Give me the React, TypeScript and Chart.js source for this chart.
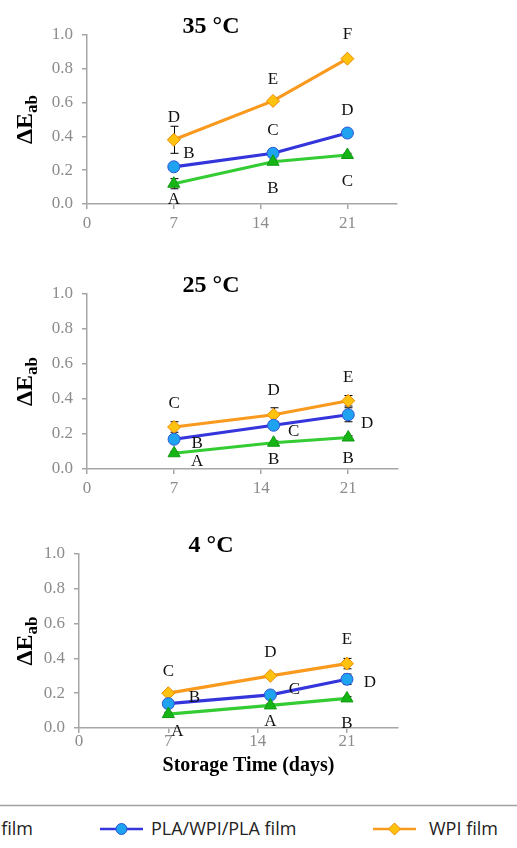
import React, { useEffect, useRef } from 'react';
import { Chart, registerables } from 'chart.js';

Chart.register(...registerables);

// ---------- data ----------
const days = [7, 15, 21];
const xTicks = [0, 7, 14, 21];
const yTicks = [0, 0.2, 0.4, 0.6, 0.8, 1.0];
const seriesNames = ['PLA film', 'PLA/WPI/PLA film', 'WPI film'];
const panelTitles = ['35 °C', '25 °C', '4 °C'];
const xAxisTitle = 'Storage Time (days)';

// 35 °C
const pla35 = [0.12, 0.25, 0.29];
const mid35 = [0.22, 0.30, 0.42];
const wpi35 = [0.38, 0.61, 0.86];
const plaErr35 = [0.03, 0.01, 0.01];
const midErr35 = [0.01, 0.01, 0.01];
const wpiErr35 = [0.08, 0.01, 0.01];
const plaLet35 = ['A', 'B', 'C'];
const midLet35 = ['B', 'C', 'D'];
const wpiLet35 = ['D', 'E', 'F'];

// 25 °C
const pla25 = [0.09, 0.15, 0.18];
const mid25 = [0.17, 0.25, 0.31];
const wpi25 = [0.24, 0.31, 0.39];
const plaErr25 = [0.01, 0.01, 0.01];
const midErr25 = [0.02, 0.02, 0.04];
const wpiErr25 = [0.03, 0.04, 0.03];
const plaLet25 = ['A', 'B', 'B'];
const midLet25 = ['B', 'C', 'D'];
const wpiLet25 = ['C', 'D', 'E'];

// 4 °C
const pla4 = [0.08, 0.13, 0.17];
const mid4 = [0.14, 0.19, 0.28];
const wpi4 = [0.20, 0.30, 0.37];
const plaErr4 = [0.01, 0.01, 0.01];
const midErr4 = [0.02, 0.02, 0.03];
const wpiErr4 = [0.01, 0.01, 0.03];
const plaLet4 = ['A', 'A', 'B'];
const midLet4 = ['B', 'C', 'D'];
const wpiLet4 = ['C', 'D', 'E'];

// ---------- styles ----------
const SERIF = "'Liberation Serif', 'Times New Roman', serif";
const SANS = "'Open Sans', 'Liberation Sans', sans-serif";
const AXIS_COLOR = '#A6A6A6';
const TICK_COLOR = '#8C8C8C';

Chart.defaults.font.family = SERIF;

const seriesStyles = [
  { line: '#33CC33', fill: '#16B516', border: '#109A10', pointStyle: 'triangle', radius: 7 },
  { line: '#3535DC', fill: '#1FA3F0', border: '#2B55D6', pointStyle: 'circle', radius: 6 },
  { line: '#F99A1E', fill: '#FFC20E', border: '#EE8A00', pointStyle: 'rectRot', radius: 6.5 },
];

type Panel = {
  title: string;
  values: number[][];
  errs: number[][];
  letters: string[][];
  offsets: number[][][];
  top: number;
  height: number;
  padTop: number;
  left: number;
  right: number;
  xAxisH: number;
  xPad: number;
  showXTitle: boolean;
};

const panels: Panel[] = [
  {
    title: panelTitles[0],
    values: [pla35, mid35, wpi35],
    errs: [plaErr35, midErr35, wpiErr35],
    letters: [plaLet35, midLet35, wpiLet35],
    offsets: [
      [[0, 16], [0, 27], [0, 27]],
      [[15, -13], [0, -23], [0, -22]],
      [[0, -22], [0, -21], [0, -24]],
    ],
    top: 0, height: 240, padTop: 35, left: 87, right: 397, xAxisH: 36, xPad: 4, showXTitle: false,
  },
  {
    title: panelTitles[1],
    values: [pla25, mid25, wpi25],
    errs: [plaErr25, midErr25, wpiErr25],
    letters: [plaLet25, midLet25, wpiLet25],
    offsets: [
      [[23, 8], [0, 17], [0, 21]],
      [[23, 4], [20, 6], [19, 9]],
      [[0, -23], [0, -24], [0, -23]],
    ],
    top: 250, height: 250, padTop: 44, left: 87, right: 398, xAxisH: 31, xPad: 4, showXTitle: false,
  },
  {
    title: panelTitles[2],
    values: [pla4, mid4, wpi4],
    errs: [plaErr4, midErr4, wpiErr4],
    letters: [plaLet4, midLet4, wpiLet4],
    offsets: [
      [[9, 17], [0, 16], [0, 25]],
      [[26, -6], [24, -5], [23, 3]],
      [[0, -22], [0, -23], [0, -24]],
    ],
    top: 510, height: 290, padTop: 44, left: 79, right: 398, xAxisH: 72, xPad: -2, showXTitle: true,
  },
];

function makePlugin(p: Panel) {
  return {
    id: 'panelDecor',
    beforeDatasetsDraw(chart: any) {
      const ctx = chart.ctx;
      const xs = chart.scales.x;
      const ys = chart.scales.y;
      ctx.save();
      ctx.strokeStyle = '#000';
      ctx.lineWidth = 1;
      p.values.forEach((vals, si) => {
        vals.forEach((v, i) => {
          const e = p.errs[si][i];
          if (!e) return;
          const x = Math.round(xs.getPixelForValue(days[i])) + 0.5;
          const y1 = ys.getPixelForValue(v + e);
          const y2 = ys.getPixelForValue(v - e);
          ctx.beginPath();
          ctx.moveTo(x, y1); ctx.lineTo(x, y2);
          ctx.moveTo(x - 4, y1); ctx.lineTo(x + 4, y1);
          ctx.moveTo(x - 4, y2); ctx.lineTo(x + 4, y2);
          ctx.stroke();
        });
      });
      ctx.restore();
    },
    afterDraw(chart: any) {
      const ctx = chart.ctx;
      const xs = chart.scales.x;
      const ys = chart.scales.y;
      const ca = chart.chartArea;
      ctx.save();
      // panel title
      ctx.fillStyle = '#000';
      ctx.font = `bold 24px ${SERIF}`;
      ctx.textAlign = 'center';
      ctx.textBaseline = 'alphabetic';
      ctx.fillText(p.title, 211, ca.top - 2);

      // y-axis title: ΔE with subscript ab
      const cy = (ca.top + ca.bottom) / 2;
      ctx.translate(32, cy);
      ctx.rotate(-Math.PI / 2);
      ctx.font = `bold 24px ${SERIF}`;
      const w1 = ctx.measureText('ΔE').width;
      ctx.font = `bold 17px ${SERIF}`;
      const w2 = ctx.measureText('ab').width;
      const start = -(w1 + w2) / 2;
      ctx.textAlign = 'left';
      ctx.font = `bold 24px ${SERIF}`;
      ctx.fillText('ΔE', start, 0);
      ctx.font = `bold 17px ${SERIF}`;
      ctx.fillText('ab', start + w1, 5);
      ctx.setTransform(1, 0, 0, 1, 0, 0);

      // significance letters
      ctx.font = `17px ${SERIF}`;
      ctx.textAlign = 'center';
      ctx.textBaseline = 'middle';
      ctx.fillStyle = '#111';
      p.values.forEach((vals, si) => {
        vals.forEach((v, i) => {
          const x = xs.getPixelForValue(days[i]);
          const y = ys.getPixelForValue(v);
          const [dx, dy] = p.offsets[si][i];
          ctx.fillText(p.letters[si][i], x + dx, y + dy);
        });
      });

      // x-axis title
      if (p.showXTitle) {
        ctx.font = `bold 20px ${SERIF}`;
        ctx.textBaseline = 'alphabetic';
        ctx.fillStyle = '#000';
        ctx.fillText(xAxisTitle, (ca.left + ca.right) / 2 + 10, ca.bottom + 43);
      }
      ctx.restore();
    },
  };
}

function PanelChart({ p }: { p: Panel }) {
  const ref = useRef<HTMLCanvasElement | null>(null);
  useEffect(() => {
    if (!ref.current) return;
    const datasets = p.values.map((vals, si) => {
      const st = seriesStyles[si];
      return {
        label: seriesNames[si],
        data: vals.map((v, i) => ({ x: days[i], y: v })),
        borderColor: st.line,
        backgroundColor: st.fill,
        borderWidth: 3.2,
        pointStyle: st.pointStyle,
        pointRadius: st.radius,
        pointBackgroundColor: st.fill,
        pointBorderColor: st.border,
        pointBorderWidth: 1,
        tension: 0,
        fill: false,
      };
    });
    const tickFont = { family: SERIF, size: 17, weight: 'normal' };
    const chart = new Chart(ref.current, {
      type: 'line',
      data: { datasets } as any,
      options: {
        responsive: false,
        animation: false,
        events: [],
        font: { family: SERIF },
        layout: { padding: { top: p.padTop, right: 517 - p.right, left: 0, bottom: 0 } },
        plugins: { legend: { display: false }, tooltip: { enabled: false }, title: { display: false } },
        scales: {
          x: {
            type: 'linear',
            min: 0,
            max: 25,
            afterBuildTicks: (a: any) => { a.ticks = xTicks.map((v) => ({ value: v })); },
            afterFit: (s: any) => { s.height = p.xAxisH; },
            grid: { drawOnChartArea: false, drawTicks: true, tickLength: 5, color: AXIS_COLOR, lineWidth: 1.5 },
            border: { color: AXIS_COLOR, width: 1.5 },
            ticks: {
              font: tickFont,
              color: TICK_COLOR,
              padding: p.xPad,
              maxRotation: 0,
              autoSkip: false,
              callback: (v: any) => String(v),
            },
          },
          y: {
            type: 'linear',
            min: 0,
            max: 1,
            afterBuildTicks: (a: any) => { a.ticks = yTicks.map((v) => ({ value: v })); },
            afterFit: (s: any) => { s.width = p.left; },
            grid: { drawOnChartArea: false, drawTicks: true, tickLength: 5, color: AXIS_COLOR, lineWidth: 1.5 },
            border: { color: AXIS_COLOR, width: 1.5 },
            ticks: {
              font: tickFont,
              color: TICK_COLOR,
              padding: 9,
              callback: (v: any) => Number(v).toFixed(1),
            },
          },
        },
      } as any,
      plugins: [makePlugin(p)],
    });
    return () => chart.destroy();
  }, [p]);
  return (
    <canvas
      ref={ref}
      width={517}
      height={p.height}
      style={{ position: 'absolute', left: 0, top: p.top, width: 517, height: p.height, display: 'block' }}
    />
  );
}

function Legend() {
  const y = 29;
  const fs = 18;
  return (
    <svg width={517} height={48} style={{ position: 'absolute', left: 0, top: 800 }}>
      <line x1={0} y1={5.5} x2={517} y2={5.5} stroke="#A0A0A0" strokeWidth={1.5} />
      {/* PLA film (mostly cut off at the left edge) */}
      <line x1={-120} y1={y} x2={-77} y2={y} stroke={seriesStyles[0].line} strokeWidth={2.5} />
      <text x={33} y={35} textAnchor="end" fontFamily={SANS} fontSize={fs} fill="#222">{seriesNames[0]}</text>
      {/* PLA/WPI/PLA film */}
      <line x1={100} y1={y} x2={143} y2={y} stroke={seriesStyles[1].line} strokeWidth={2.5} />
      <circle cx={121.5} cy={y} r={5.5} fill={seriesStyles[1].fill} stroke={seriesStyles[1].border} strokeWidth={1} />
      <text x={151} y={35} fontFamily={SANS} fontSize={fs} fill="#222">{seriesNames[1]}</text>
      {/* WPI film */}
      <line x1={373} y1={y} x2={416} y2={y} stroke={seriesStyles[2].line} strokeWidth={2.5} />
      <polygon
        points={`394.5,${y - 6} 400.5,${y} 394.5,${y + 6} 388.5,${y}`}
        fill={seriesStyles[2].fill}
        stroke={seriesStyles[2].border}
        strokeWidth={1}
      />
      <text x={429} y={35} fontFamily={SANS} fontSize={fs} fill="#222">{seriesNames[2]}</text>
    </svg>
  );
}

export default function App() {
  return (
    <div
      style={{
        position: 'fixed',
        left: 0,
        top: 0,
        width: 517,
        height: 848,
        background: '#fff',
        overflow: 'hidden',
      }}
    >
      {panels.map((p, i) => (
        <PanelChart key={i} p={p} />
      ))}
      <Legend />
    </div>
  );
}
